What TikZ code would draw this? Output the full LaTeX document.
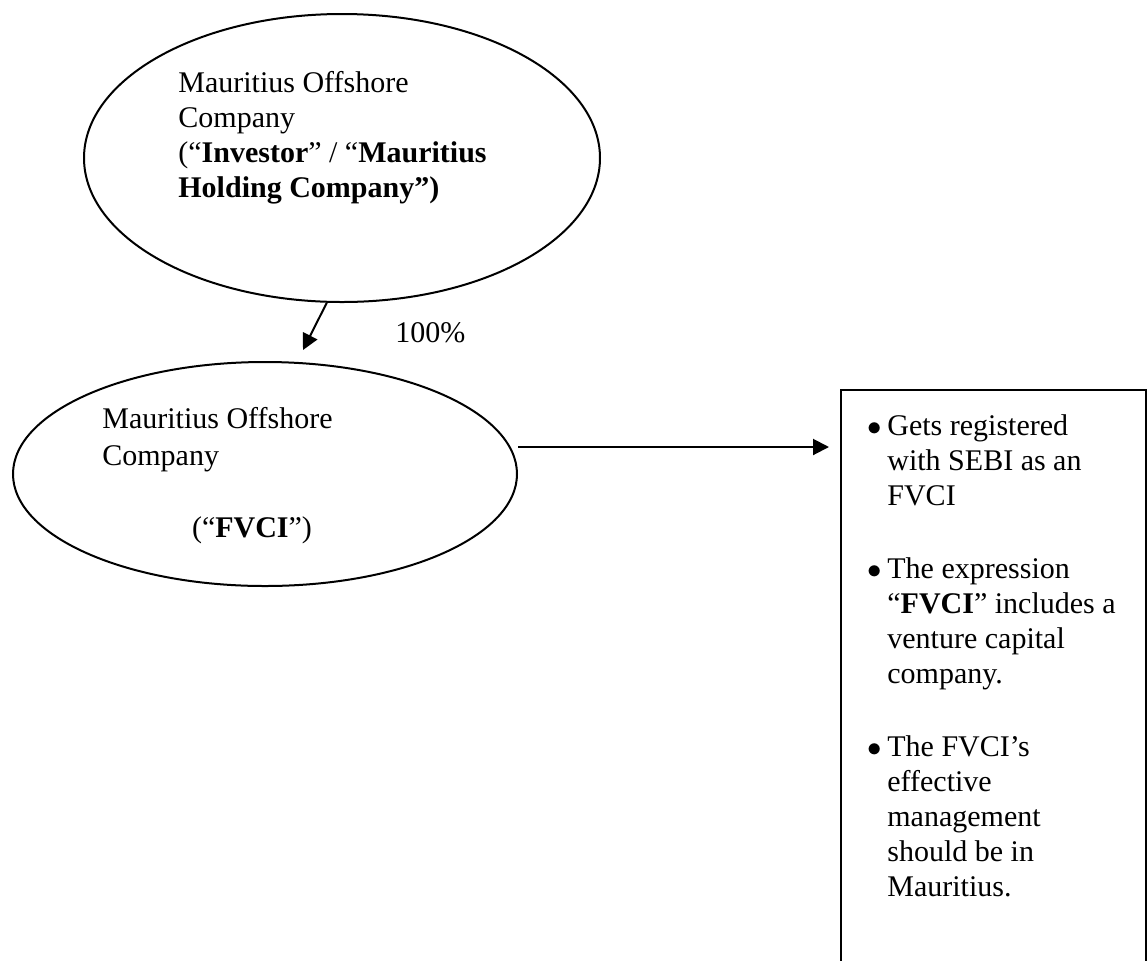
\documentclass[tikz,border=0pt]{standalone}
\usepackage{fontspec}
\setmainfont{Liberation Serif}
\usetikzlibrary{shapes.geometric,arrows.meta}
\newcommand{\itemdot}{\llap{$\bullet$\hspace{3pt}}}
\begin{document}
\begin{tikzpicture}[x=0.5pt,y=-0.5pt,
  company/.style={draw,ellipse,line width=1pt,inner sep=0pt},
  label/.style={inner sep=0pt,align=left,font=\fontsize{15}{17.5}\selectfont},
  link/.style={line width=1pt,-{Triangle[length=8pt,width=8pt]}},
  notebox/.style={draw,line width=1.2pt,inner sep=0pt,anchor=north west}]
\useasboundingbox (0,0) rectangle (1147,960);
\clip (0,0) rectangle (1147,960);

% the two companies
\node[company,minimum width=258pt,minimum height=144pt] (investor) at (342,158) {};
\node[company,minimum width=252pt,minimum height=112pt] (fvci) at (265,474) {};

% multi-line labels are placed by the baseline of their last line
\node[label,anchor=base west] (investortext) at (178,197)
  {Mauritius Offshore\\Company\\(“\textbf{Investor}” / “\textbf{Mauritius}\\\textbf{Holding Company”)}};
\node[label,anchor=base west,font=\fontsize{15}{18.5}\selectfont] (fvcitext) at (102,465)
  {Mauritius Offshore\\Company};
\node[label,anchor=base] (fvciname) at (252,537) {(“\textbf{FVCI}”)};

% shareholding link
\coordinate (fvcitop) at (303,350);
\draw[link] (investor.264) -- (fvcitop);
\node[label,anchor=base west] (share) at (395,342) {100\%};

% notes on the FVCI
\node[notebox,minimum width=152.5pt,minimum height=300pt] (notes) at (840,389) {};
\coordinate (notesin) at (829,447);
\draw[link] (fvci.east |- notesin) -- (notesin);

\node[label,anchor=base west] (notetext) at (887,896)
  {\itemdot Gets registered\\with SEBI as an\\FVCI\\[19pt]
   \itemdot The expression\\“\textbf{FVCI}” includes a\\venture capital\\company.\\[19pt]
   \itemdot The FVCI’s\\effective\\management\\should be in\\Mauritius.};
\end{tikzpicture}
\end{document}
